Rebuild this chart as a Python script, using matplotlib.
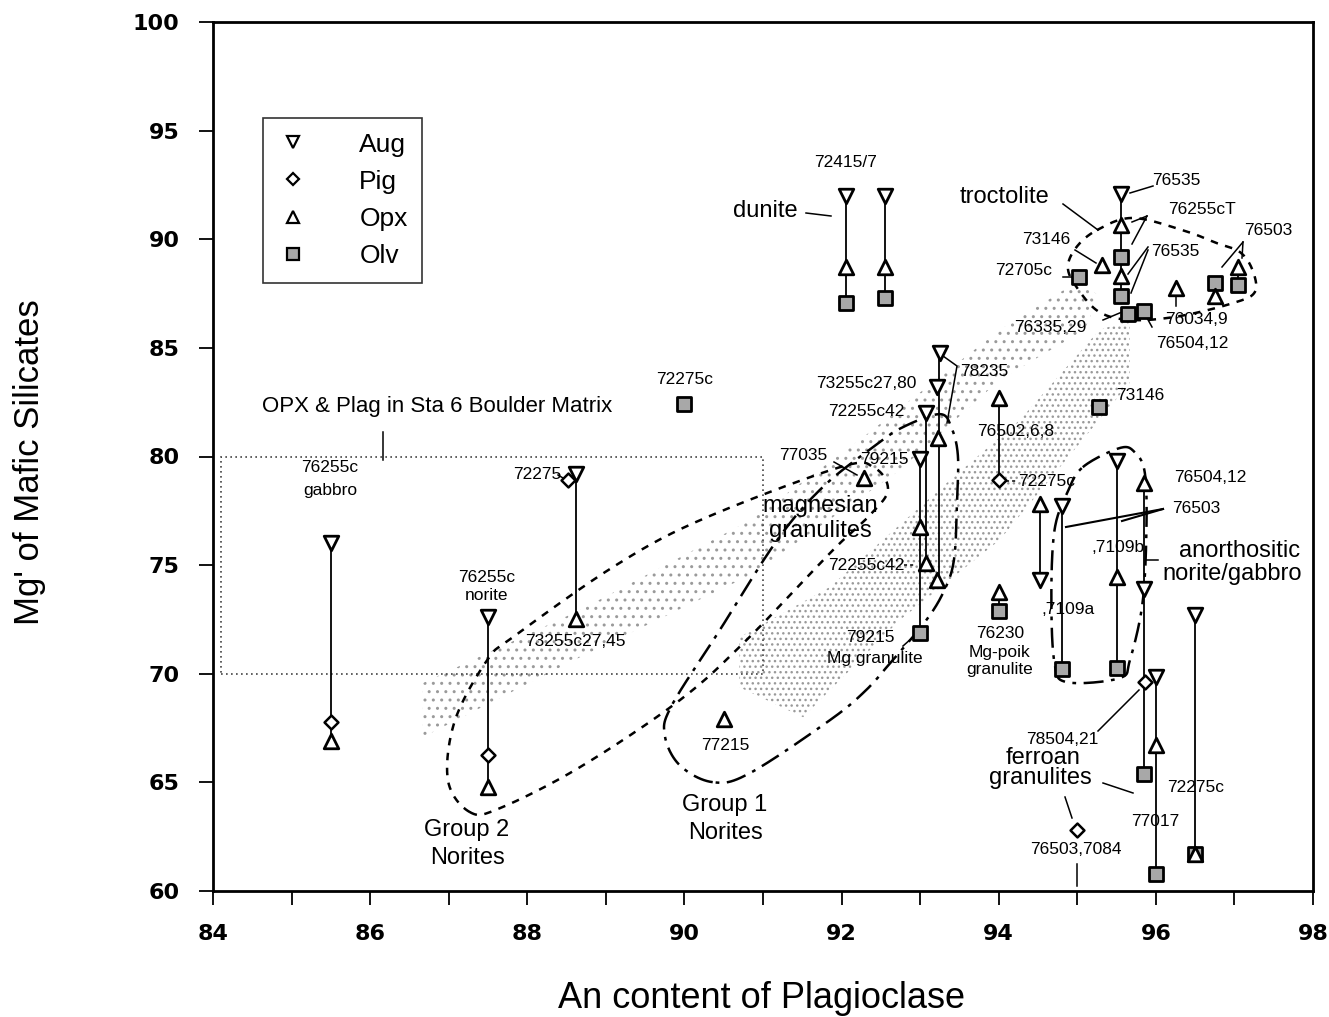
import numpy as np
import matplotlib
matplotlib.use("Agg")
import matplotlib.pyplot as plt
from matplotlib.patches import Polygon, Rectangle
from matplotlib.lines import Line2D

plt.rcParams['font.family'] = ['Liberation Sans', 'DejaVu Sans']
plt.rcParams['hatch.linewidth'] = 1.0

# ---------------- data ----------------
aug_x = [85.5, 87.5, 88.62, 92.05, 92.55, 93.25, 93.22, 93.08, 93.0, 94.52, 94.81, 95.5, 95.85, 96.0, 96.5, 95.55]
aug_y = [76.0, 72.6, 79.2, 92.0, 92.0, 84.76, 83.2, 82.0, 79.9, 74.3, 77.7, 79.8, 73.9, 69.85, 72.7, 92.1]

pig_x = [85.5, 87.5, 88.52, 94.0, 95.86, 95.0]
pig_y = [67.8, 66.25, 78.9, 78.9, 69.6, 62.8]

opx_x = [85.5, 87.5, 88.62, 92.05, 92.55, 93.23, 93.0, 93.08, 93.22, 94.0, 94.0, 94.52, 95.5, 95.85,
         96.0, 96.5, 92.28, 90.5, 95.55, 95.55, 95.31, 96.25, 96.75, 97.05]
opx_y = [66.9, 64.8, 72.5, 88.7, 88.7, 80.85, 76.75, 75.1, 74.3, 82.7, 73.75, 77.8, 74.45, 78.8,
         66.7, 61.7, 79.0, 67.9, 90.65, 88.3, 88.8, 87.75, 87.4, 88.7]

olv_x = [90.0, 92.05, 92.55, 93.0, 94.0, 95.28, 94.81, 95.5, 95.85, 96.0, 96.5, 95.55, 95.55,
         95.64, 95.85, 95.02, 96.75, 97.05]
olv_y = [82.4, 87.06, 87.3, 71.87, 72.9, 82.3, 70.2, 70.25, 65.4, 60.8, 61.7, 89.2, 87.4,
         86.55, 86.7, 88.26, 88.0, 87.9]

tie_x = [85.5, 87.5, 88.62, 92.05, 92.55, 93.24, 93.08, 93.0, 94.0, 94.0, 94.52, 94.81, 95.5,
         95.85, 96.0, 96.5, 95.55, 96.75, 97.05]
tie_top = [76.0, 72.6, 79.2, 92.0, 92.0, 84.76, 82.0, 79.9, 82.7, 73.75, 77.8, 77.7, 79.8,
           78.8, 69.85, 72.7, 92.1, 88.0, 88.7]
tie_bot = [66.9, 64.8, 72.5, 87.06, 87.3, 74.3, 75.1, 71.87, 78.9, 72.9, 74.3, 70.2, 70.25,
           65.4, 60.8, 61.7, 87.4, 87.4, 87.9]

# outlined fields (data coordinates)
band_a_x = [86.67, 88.67, 90.84, 92.23, 94.01, 94.97, 95.28, 95.09, 94.01, 92.74, 90.84, 88.67, 86.67]
band_a_y = [69.57, 72.93, 77.07, 80.76, 85.82, 87.98, 87.43, 85.82, 83.52, 79.37, 74.54, 70.76, 67.08]
band_b_x = [90.70, 91.85, 93.38, 94.27, 95.28, 95.67, 95.67, 94.01, 92.74, 91.51, 90.70]
band_b_y = [71.68, 73.99, 78.91, 81.68, 85.82, 86.28, 83.40, 76.15, 72.47, 68.0, 69.38]

grp2_x = [87.27, 86.99, 87.08, 87.49, 87.82, 89.09, 90.20, 91.98, 92.42, 92.59, 92.36, 91.89, 90.79, 89.94, 88.67, 87.65]
grp2_y = [63.63, 65.10, 67.86, 70.63, 71.69, 74.91, 77.07, 79.51, 79.47, 78.45, 77.30, 75.69, 71.55, 68.78, 65.70, 63.81]
grp1_x = [90.36, 89.94, 89.75, 89.84, 90.45, 91.18, 91.76, 92.40, 92.78, 93.25, 93.40, 93.48, 93.47, 93.43, 93.29, 93.05, 92.65, 92.31, 91.85, 90.83]
grp1_y = [65.01, 65.79, 67.17, 68.55, 72.01, 76.15, 78.59, 80.43, 81.35, 81.95, 81.31, 80.06, 77.99, 75.23, 73.71, 72.33, 70.63, 69.24, 67.86, 65.42]
troc_x = [95.25, 95.70, 96.34, 96.77, 97.07, 97.23, 97.26, 96.98, 96.30, 95.70, 95.28, 94.99, 94.88, 94.99]
troc_y = [90.42, 90.98, 90.42, 89.83, 89.41, 88.58, 87.57, 87.06, 86.46, 86.28, 86.65, 87.80, 88.72, 89.64]
anor_x = [95.07, 95.54, 95.73, 95.86, 95.88, 95.83, 95.67, 95.54, 94.87, 94.71, 94.67, 94.71, 94.87]
anor_y = [79.51, 80.39, 80.20, 79.24, 76.61, 73.25, 70.63, 69.80, 69.61, 70.49, 73.53, 76.61, 78.31]

box_x = [84.1, 91.0]
box_y = [70.0, 80.0]

x_ticks = [84, 86, 88, 90, 92, 94, 96, 98]
y_ticks = [60, 65, 70, 75, 80, 85, 90, 95, 100]

# ---------------- figure ----------------
W, H = 1329, 1017
fig = plt.figure(figsize=(W / 100, H / 100), dpi=100)
AX_L, AX_R, AX_T, AX_B = 213, 1313, 22, 891
ax = fig.add_axes([AX_L / W, 1 - AX_B / H, (AX_R - AX_L) / W, (AX_B - AX_T) / H])
ax.set_xlim(84, 98)
ax.set_ylim(60, 100)


def P(px, py):
    return (84 + (px - AX_L) / (AX_R - AX_L) * 14, 100 - (py - AX_T) / (AX_B - AX_T) * 40)


def leader(*pts, **kw):
    xy = np.array([P(*p) for p in pts])
    kw.setdefault('color', 'black')
    kw.setdefault('lw', 1.1)
    ax.plot(xy[:, 0], xy[:, 1], zorder=2, **kw)


def label(px, py, s, size=12.5, ha='center', weight='normal'):
    x, y = P(px, py)
    ax.text(x, y, s, fontsize=size, ha=ha, va='center', weight=weight, zorder=6)


def smooth_closed(xs, ys, n=24):
    pts = np.column_stack([xs, ys])
    N = len(pts)
    out = []
    t = np.linspace(0, 1, n, endpoint=False)[:, None]
    for i in range(N):
        p0, p1, p2, p3 = pts[i - 1], pts[i], pts[(i + 1) % N], pts[(i + 2) % N]
        seg = 0.5 * (2 * p1 + (-p0 + p2) * t + (2 * p0 - 5 * p1 + 4 * p2 - p3) * t ** 2
                     + (-p0 + 3 * p1 - 3 * p2 + p3) * t ** 3)
        out.append(seg)
    out.append(pts[:1])
    return np.vstack(out)


# stippled bands
ax.add_patch(Polygon(np.column_stack([band_a_x, band_a_y]), closed=True, fill=False,
                     hatch='..', edgecolor='#9a9a9a', lw=0, zorder=1))
ax.add_patch(Polygon(np.column_stack([band_b_x, band_b_y]), closed=True, fill=False,
                     hatch='...', edgecolor='#9a9a9a', lw=0, zorder=1))

# dotted rectangle
ax.add_patch(Rectangle((box_x[0], box_y[0]), box_x[1] - box_x[0], box_y[1] - box_y[0],
                       fill=False, ls=(0, (1, 2)), lw=1.2, edgecolor='#444444', zorder=1))

# loops
for xs, ys, ls in [(grp2_x, grp2_y, (0, (3, 3))),
                   (troc_x, troc_y, (0, (3, 3))),
                   (grp1_x, grp1_y, (0, (8, 3, 1.5, 3))),
                   (anor_x, anor_y, (0, (8, 3, 1.5, 3)))]:
    c = smooth_closed(xs, ys)
    ax.plot(c[:, 0], c[:, 1], color='black', lw=1.8, ls=ls, zorder=2)

# tie lines
for x, y1, y2 in zip(tie_x, tie_top, tie_bot):
    ax.plot([x, x], [y1, y2], color='black', lw=1.3, zorder=2)

# markers
ax.scatter(olv_x, olv_y, marker='s', s=105, facecolor='#a8a8a8', edgecolor='black', lw=2.0, zorder=3)
ax.scatter(aug_x, aug_y, marker='v', s=110, facecolor='white', edgecolor='black', lw=2.0, zorder=4)
ax.scatter(opx_x, opx_y, marker='^', s=110, facecolor='white', edgecolor='black', lw=2.0, zorder=4)
ax.scatter(pig_x, pig_y, marker='D', s=50, facecolor='white', edgecolor='black', lw=1.8, zorder=4)

# ---------------- annotations ----------------
big = 17
label(846, 163, '72415/7')
label(765, 211, 'dunite', big)
leader((806, 213), (831, 216))
label(1005, 197, 'troctolite', big)
leader((1063, 204), (1098, 230))
label(1176, 181, '76535')
leader((1153, 186), (1130, 193))
label(1202, 209, '76255cT')
leader((1147, 216), (1132, 222))
leader((1147, 216), (1132, 244))
label(1046, 240, '73146')
leader((1075, 250), (1096, 263))
label(1024, 271, '72705c')
leader((1063, 277), (1072, 277))
label(1175, 252, '76535')
leader((1148, 247), (1128, 274))
leader((1148, 250), (1131, 293))
label(1268, 231, '76503')
leader((1243, 242), (1222, 267))
leader((1243, 242), (1242, 258))
label(1196, 320, '76034,9')
leader((1176, 296), (1176, 306))
label(1050, 328, '76335,29')
leader((1103, 320), (1122, 312))
label(1192, 343, '76504,12')
leader((1147, 318), (1152, 327))

label(685, 380, '72275c')
label(866, 383, '73255c27,80')
label(984, 372, '78235')
leader((943, 356), (957, 366), (947, 423))
label(866, 412, '72255c42')
label(437, 407, 'OPX & Plag in Sta 6 Boulder Matrix', 16)
leader((383, 432), (383, 460))
label(803, 455, '77035')
leader((834, 462), (857, 475))
label(884, 459, '79215')
label(820, 506, 'magnesian', big)
label(820, 531, 'granulites', big)
label(866, 565, '72255c42')
leader((904, 565), (915, 565), ls=(0, (2, 2)))
label(870, 637, '79215')
label(875, 659, 'Mg granulite')
leader((903, 646), (912, 638))
label(1000, 634, '76230')
label(1000, 652, 'Mg-poik')
label(1000, 670, 'granulite')
label(1016, 432, '76502,6,8')
label(1140, 396, '73146')
label(1047, 482, '72275c')
leader((1006, 481), (1017, 481), ls=(0, (2, 2)))
label(1210, 478, '76504,12')
label(1196, 509, '76503')
leader((1163, 509), (1066, 527), lw=1.5)
leader((1163, 509), (1122, 521), lw=1.5)
label(1118, 548, ',7109b')
label(1240, 551, 'anorthositic', big)
label(1232, 574, 'norite/gabbro', big)
leader((1146, 560), (1158, 560))
label(1068, 610, ',7109a')
label(1062, 740, '78504,21')
leader((1098, 731), (1139, 690))
label(1043, 758, 'ferroan', big)
label(1040, 778, 'granulites', big)
leader((1103, 783), (1133, 793))
leader((1065, 797), (1072, 818))
label(1155, 822, '77017')
label(1196, 788, '72275c')
label(1076, 850, '76503,7084')
leader((1077, 864), (1077, 886))

label(330, 468, '76255c')
label(330, 491, 'gabbro')
label(487, 578, '76255c')
label(487, 596, 'norite')
label(537, 475, '72275')
leader((558, 475), (568, 481))
label(575, 641, '73255c27,45')
label(725, 745, '77215')
label(467, 830, 'Group 2', big)
label(467, 858, 'Norites', big)
label(725, 805, 'Group 1', big)
label(725, 833, 'Norites', big)

# ---------------- legend ----------------
handles = [
    Line2D([], [], ls='none', marker='v', ms=8, mfc='white', mec='black', mew=1.6),
    Line2D([], [], ls='none', marker='D', ms=6, mfc='white', mec='black', mew=1.6),
    Line2D([], [], ls='none', marker='^', ms=8, mfc='white', mec='black', mew=1.6),
    Line2D([], [], ls='none', marker='s', ms=8, mfc='#a8a8a8', mec='black', mew=1.6),
]
lx0, ly0 = (263 - AX_L) / (AX_R - AX_L), 1 - (118 - AX_T) / (AX_B - AX_T)
leg = ax.legend(handles, ['Aug', 'Pig', 'Opx', 'Olv'], loc='upper left',
                bbox_to_anchor=(lx0, ly0), fontsize=19, frameon=True, fancybox=False,
                edgecolor='black', borderpad=0.55, labelspacing=0.5, handletextpad=1.9,
                handlelength=1.2, borderaxespad=0)
leg.get_frame().set_linewidth(1.2)
leg.set_zorder(7)

# ---------------- axes styling ----------------
ax.set_xticks(x_ticks)
ax.set_xticks(np.arange(85, 98, 2), minor=True)
ax.set_yticks(y_ticks)
ax.tick_params(axis='both', which='both', direction='out', length=10, width=1.3)
ax.tick_params(axis='x', pad=14)
ax.tick_params(axis='y', pad=14)
for lab in ax.get_xticklabels() + ax.get_yticklabels():
    lab.set_fontsize(16)
    lab.set_fontweight('bold')
    lab.set_family('DejaVu Sans')
for sp in ax.spines.values():
    sp.set_linewidth(2.0)

fig.text(762 / W, 1 - 998 / H, 'An content of Plagioclase', fontsize=26, ha='center', va='center')
fig.text(30 / W, 1 - 462 / H, "Mg' of Mafic Silicates", fontsize=25, ha='center', va='center',
         rotation=90)

fig.savefig('out.png', dpi=100)
